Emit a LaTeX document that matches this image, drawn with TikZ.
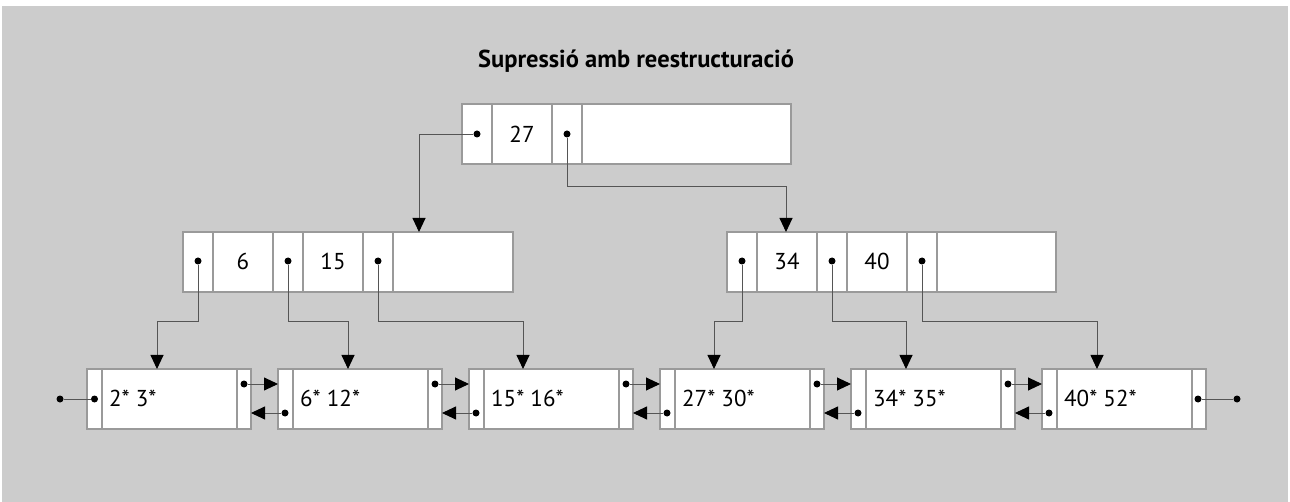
\documentclass[tikz,border=0pt]{standalone}
\usepackage{fontspec}
\setmainfont{PT Sans}
\usetikzlibrary{arrows.meta,calc}
\definecolor{bg}{HTML}{CCCCCC}
\definecolor{edge}{HTML}{9A9A9A}
\definecolor{wire}{HTML}{555555}
\begin{document}
\begin{tikzpicture}[x=1pt,y=-1pt,
  box/.style={draw=edge,line width=1.1pt,fill=white,rectangle,inner sep=0pt,outer sep=0pt,anchor=north west,minimum height=60pt},
  leafbox/.style={box,minimum width=164pt},
  div/.style={draw=edge,line width=1.1pt},
  dot/.style={circle,fill=black,inner sep=0pt,minimum size=7pt},
  keylab/.style={font=\fontsize{23}{23}\selectfont,inner sep=0pt},
  wirel/.style={draw=wire,line width=0.9pt},
  arr/.style={wirel,-{Triangle[width=13pt,length=14pt,color=black]}}]
\useasboundingbox (0,0) rectangle (1290,502);
\fill[bg] (2,6) rectangle (1288,502);
\node[font=\bfseries\fontsize{24.5}{27}\selectfont,inner sep=0pt] (title) at (636,61) {Supressió amb reestructuració};
% root
\node[box,minimum width=329pt] (r) at (462,104) {};
\foreach \d in {30,90,120} \draw[div] ([xshift=\d pt]r.north west) -- ([xshift=\d pt]r.south west);
\node[keylab] (r-k1) at (522,134) {27};
\node[dot] (r-p0) at (477,134) {};
\node[dot] (r-p1) at (567,134) {};
% middle
\node[box,minimum width=330pt] (ml) at (183,232) {};
\node[box,minimum width=329pt] (mr) at (727,232) {};
\foreach \n in {ml,mr}
  \foreach \d in {30,90,120,180,210} \draw[div] ([xshift=\d pt]\n.north west) -- ([xshift=\d pt]\n.south west);
\node[keylab] (ml-k1) at (243,261) {6};
\node[keylab] (ml-k2) at (333,261) {15};
\node[keylab] (mr-k1) at (787,261) {34};
\node[keylab] (mr-k2) at (877,261) {40};
\foreach \n/\x in {ml/198,mr/742} {
  \node[dot] (\n-p0) at (\x,261) {};
  \node[dot] (\n-p1) at (\x+90,261) {};
  \node[dot] (\n-p2) at (\x+180,261) {};
}
% leaves
\foreach \i/\x/\t in {1/87/{2* 3*},2/278/{6* 12*},3/469/{15* 16*},4/660/{27* 30*},5/851/{34* 35*},6/1042/{40* 52*}} {
  \node[leafbox] (l\i) at (\x,369) {};
  \draw[div] ([xshift=15pt]l\i.north west) -- ([xshift=15pt]l\i.south west);
  \draw[div] ([xshift=-14pt]l\i.north east) -- ([xshift=-14pt]l\i.south east);
  \node[keylab,anchor=west] (l\i-t) at (\x+22,398) {\t};
}
\foreach \i/\x in {1/87,2/278,3/469,4/660,5/851} \node[dot] (l\i-rt) at (\x+157,384) {};
\foreach \i/\x in {2/278,3/469,4/660,5/851,6/1042} \node[dot] (l\i-lb) at (\x+7,413) {};
\node[dot] (l1-lm) at (94.5,399) {};
\node[dot] (l6-rm) at (1198,399) {};
\node[dot] (ext-l) at (60,399) {};
\node[dot] (ext-r) at (1237,399) {};
% bend levels
\coordinate (h1) at (0,186);
\coordinate (h2) at (0,321);
% root connectors
\draw[arr] (r-p0) -| ([xshift=236pt]ml.north west);
\draw[arr] (r-p1) -- (r-p1 |- h1) -| ([xshift=59pt]mr.north west);
% middle connectors
\draw[arr] (ml-p0) -- (ml-p0 |- h2) -| ([xshift=70pt]l1.north west);
\draw[arr] (ml-p1) -- (ml-p1 |- h2) -| ([xshift=70pt]l2.north west);
\draw[arr] (ml-p2) -- (ml-p2 |- h2) -| ([xshift=54pt]l3.north west);
\draw[arr] (mr-p0) -- (mr-p0 |- h2) -| ([xshift=54pt]l4.north west);
\draw[arr] (mr-p1) -- (mr-p1 |- h2) -| ([xshift=55pt]l5.north west);
\draw[arr] (mr-p2) -- (mr-p2 |- h2) -| ([xshift=55pt]l6.north west);
% leaf links
\foreach \i/\j in {1/2,2/3,3/4,4/5,5/6} {
  \draw[arr] (l\i-rt) -- (l\j.west |- l\i-rt);
  \draw[arr] (l\j-lb) -- (l\i.east |- l\j-lb);
}
\draw[wirel] (l1-lm) -- (ext-l);
\draw[wirel] (l6-rm) -- (ext-r);
\end{tikzpicture}
\end{document}
